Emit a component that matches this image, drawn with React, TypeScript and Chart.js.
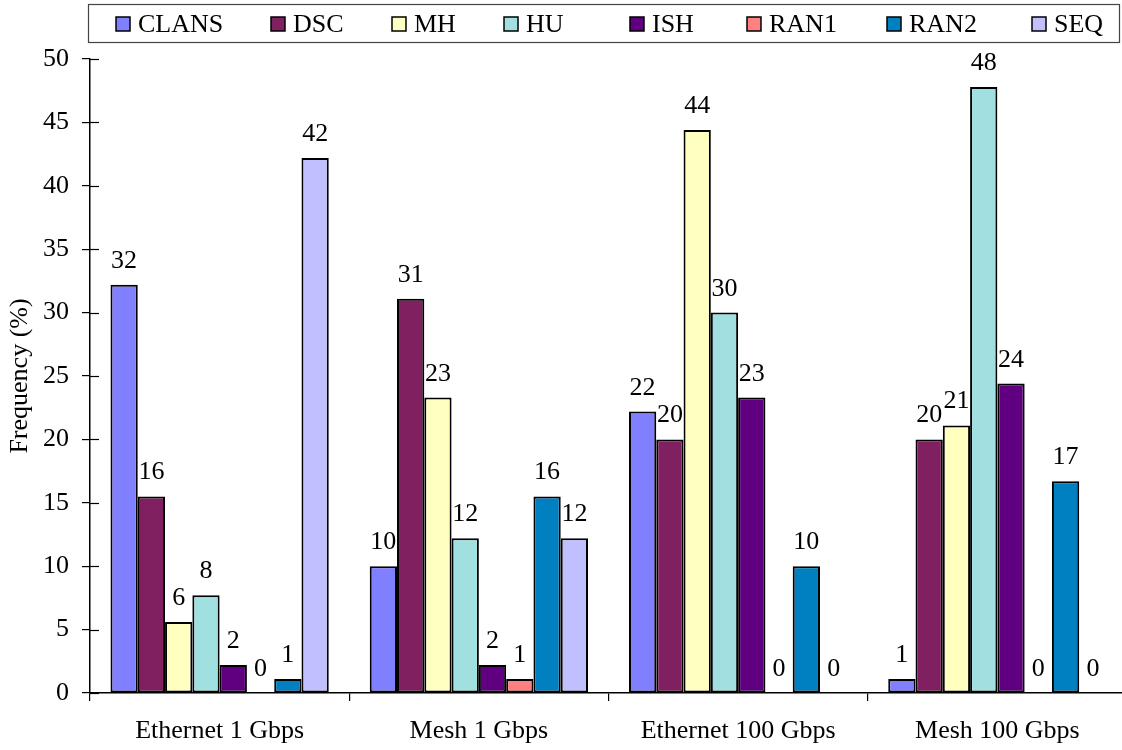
import React, { useEffect, useRef } from "react";
import { Chart, registerables } from "chart.js";

Chart.register(...registerables);

const categories = ["Ethernet 1 Gbps", "Mesh 1 Gbps", "Ethernet 100 Gbps", "Mesh 100 Gbps"];
const seriesNames = ["CLANS", "DSC", "MH", "HU", "ISH", "RAN1", "RAN2", "SEQ"];
const clans = [32.2, 10.0, 22.2, 1.1];
const dsc = [15.5, 31.1, 20.0, 20.0];
const mh = [5.6, 23.3, 44.4, 21.1];
const hu = [7.7, 12.2, 30.0, 47.8];
const ish = [2.2, 2.2, 23.3, 24.4];
const ran1 = [0, 1.1, 0, 0];
const ran2 = [1.1, 15.5, 10.0, 16.7];
const seq = [42.2, 12.2, 0, 0];
const seriesValues = [clans, dsc, mh, hu, ish, ran1, ran2, seq];
const colors = ["#8080FF", "#802060", "#FFFFC0", "#A0E0E0", "#600080", "#FF8080", "#0080C0", "#C0C0FF"];
const yTicks = [0, 5, 10, 15, 20, 25, 30, 35, 40, 45, 50];

const FONT = "'Liberation Serif', 'Times New Roman', serif";
const legendX = [116, 271, 392, 504, 630, 747, 887, 1032];

const legendPlugin = {
  id: "boxLegend",
  afterDraw(chart: any) {
    const ctx = chart.ctx;
    ctx.save();
    ctx.strokeStyle = "#444";
    ctx.lineWidth = 1.2;
    ctx.strokeRect(88.5, 4.5, 1031, 38);
    ctx.font = `26px ${FONT}`;
    ctx.textBaseline = "middle";
    ctx.textAlign = "left";
    chart.data.datasets.forEach((ds: any, i: number) => {
      const x = legendX[i];
      ctx.fillStyle = ds.backgroundColor;
      ctx.fillRect(x, 17, 14, 14);
      ctx.strokeStyle = "#000";
      ctx.lineWidth = 1.5;
      ctx.strokeRect(x, 17, 14, 14);
      ctx.fillStyle = "#000";
      ctx.fillText(ds.label, x + 22, 25);
    });
    ctx.restore();
  },
};

const labelPlugin = {
  id: "valueLabels",
  afterDatasetsDraw(chart: any) {
    const ctx = chart.ctx;
    ctx.save();
    ctx.font = `26px ${FONT}`;
    ctx.fillStyle = "#000";
    ctx.textAlign = "center";
    ctx.textBaseline = "alphabetic";
    chart.data.datasets.forEach((ds: any, i: number) => {
      const meta = chart.getDatasetMeta(i);
      meta.data.forEach((el: any, j: number) => {
        const v = ds.data[j];
        ctx.fillText(String(Math.round(v)), el.x, el.y - 17);
      });
    });
    ctx.restore();
  },
};

const innerTickPlugin = {
  id: "innerTicks",
  afterDraw(chart: any) {
    const ctx = chart.ctx;
    const y = chart.scales.y;
    const left = chart.chartArea.left;
    ctx.save();
    ctx.strokeStyle = "#000";
    ctx.lineWidth = 1.2;
    yTicks.forEach((t) => {
      const py = Math.round(y.getPixelForValue(t)) + 0.5;
      ctx.beginPath();
      ctx.moveTo(left, py);
      ctx.lineTo(left + 9, py);
      ctx.stroke();
    });
    ctx.restore();
  },
};

export default function App() {
  const ref = useRef<HTMLCanvasElement>(null);
  useEffect(() => {
    if (!ref.current) return;
    const chart = new Chart(ref.current, {
      type: "bar",
      data: {
        labels: categories,
        datasets: seriesNames.map((name, i) => ({
          label: name,
          data: seriesValues[i],
          backgroundColor: colors[i],
          borderColor: "#000",
          borderWidth: 2,
          borderSkipped: false,
          categoryPercentage: 0.842,
          barPercentage: 1,
        })),
      },
      options: {
        responsive: false,
        animation: false,
        devicePixelRatio: 1,
        layout: { padding: { top: 59, right: 3, left: 0, bottom: 0 } },
        plugins: {
          legend: { display: false },
          tooltip: { enabled: false },
        },
        scales: {
          x: {
            afterFit: (s: any) => {
              s.height = 57;
            },
            grid: {
              display: true,
              drawOnChartArea: false,
              drawTicks: true,
              tickLength: 8,
              color: "#000",
              lineWidth: 1.2,
            },
            border: { display: true, color: "#000", width: 1.5 },
            ticks: {
              color: "#000",
              font: { family: FONT, size: 26 },
              padding: 15,
              maxRotation: 0,
            },
          },
          y: {
            min: 0,
            max: 50,
            afterFit: (s: any) => {
              s.width = 90;
            },
            afterBuildTicks: (s: any) => {
              s.ticks = yTicks.map((v) => ({ value: v }));
            },
            grid: {
              display: true,
              drawOnChartArea: false,
              drawTicks: true,
              tickLength: 8,
              color: "#000",
              lineWidth: 1.2,
            },
            border: { display: true, color: "#000", width: 1.5 },
            ticks: {
              color: "#000",
              font: { family: FONT, size: 26 },
              padding: 13,
            },
            title: {
              display: true,
              text: "Frequency (%)",
              color: "#000",
              font: { family: FONT, size: 26 },
              padding: { top: 5, bottom: 0 },
            },
          },
        },
      },
      plugins: [labelPlugin, innerTickPlugin, legendPlugin],
    });
    return () => chart.destroy();
  }, []);
  return (
    <div style={{ position: "absolute", left: 0, top: 0, width: 1122, height: 750, overflow: "hidden", background: "#fff" }}>
      <canvas ref={ref} width={1130} height={750} style={{ width: 1130, height: 750, display: "block" }} />
    </div>
  );
}
